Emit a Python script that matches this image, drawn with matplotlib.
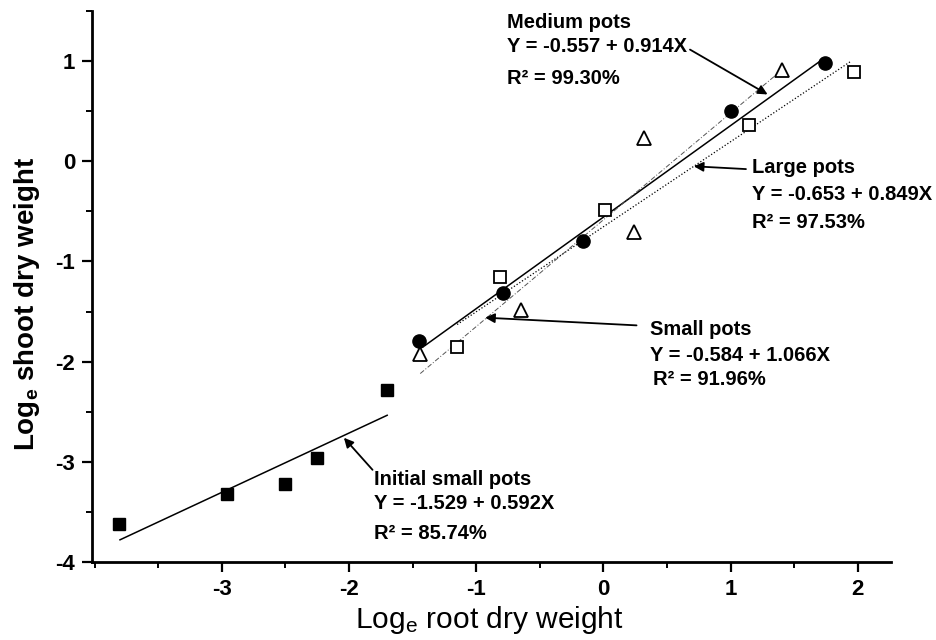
import numpy as np
import matplotlib
matplotlib.use('Agg')
import matplotlib.pyplot as plt
from matplotlib.ticker import MultipleLocator

plt.rcParams['font.family'] = ['Liberation Sans', 'DejaVu Sans']
plt.rcParams['mathtext.fontset'] = 'custom'
plt.rcParams['mathtext.rm'] = 'Liberation Sans'
plt.rcParams['mathtext.default'] = 'regular'
plt.rcParams['axes.unicode_minus'] = False

# log root (x) vs log shoot (y) dry weights
initial_x = [-3.81, -2.96, -2.50, -2.25, -1.70]
initial_y = [-3.62, -3.32, -3.22, -2.96, -2.28]
medium_x = [-1.45, -0.79, -0.16, 1.00, 1.74]
medium_y = [-1.79, -1.31, -0.80, 0.50, 0.98]
large_x = [-1.15, -0.81, 0.01, 1.14, 1.97]
large_y = [-1.85, -1.16, -0.49, 0.36, 0.89]
small_x = [-1.44, -0.65, 0.24, 0.32, 1.40]
small_y = [-1.92, -1.48, -0.71, 0.23, 0.91]

# regression lines: intercept, slope, x range
fit_names = ['Initial small pots', 'Medium pots', 'Large pots', 'Small pots']
fit_a = [-1.529, -0.557, -0.653, -0.584]
fit_b = [0.592, 0.914, 0.849, 1.066]
fit_r2 = ['85.74%', '99.30%', '97.53%', '91.96%']
fit_from = [-3.80, -1.40, -1.15, -1.44]
fit_to = [-1.70, 1.72, 1.95, 1.40]

x_ticks = [-3, -2, -1, 0, 1, 2]
y_ticks = [-4, -3, -2, -1, 0, 1]

fig = plt.figure(figsize=(9.36, 6.4), dpi=100)
ax = fig.add_axes([92 / 936, 78 / 640, 799 / 936, 551 / 640])

# regression lines
line_styles = [dict(ls='-', lw=1.1, color='black'),
               dict(ls='-', lw=1.1, color='black'),
               dict(ls=(0, (1, 1.6)), lw=0.9, color='black'),
               dict(ls=(0, (5, 2, 1, 2)), lw=0.7, color='#555555')]
for a, b, x0, x1, st in zip(fit_a, fit_b, fit_from, fit_to, line_styles):
    xs = np.array([x0, x1])
    ax.plot(xs, a + b * xs, **st, zorder=2)

# points
ax.plot(initial_x, initial_y, 's', ms=9, color='black', zorder=3)
ax.plot(medium_x, medium_y, 'o', ms=9.5, color='black', zorder=3)
ax.plot(large_x, large_y, 's', ms=8, mfc='white', mec='black', mew=1.3, zorder=3)
ax.plot(small_x, small_y, '^', ms=10, mfc='white', mec='black', mew=1.3, zorder=3)

# labels with arrows
txt = dict(fontsize=14.5, fontweight='bold', ha='left', va='center')
arrow = dict(arrowstyle='-|>', lw=1.3, color='black', mutation_scale=14,
             shrinkA=0, shrinkB=0)
# (text x, line y's, arrow tail, arrow tip)
label_pos = [(-1.80, [-3.18, -3.42, -3.72], (-1.815, -3.08), (-2.04, -2.76)),
             (-0.76, [1.382, 1.142, 0.824], (0.68, 1.115), (1.29, 0.667)),
             (1.17, [-0.061, -0.335, -0.612], (1.12, -0.078), (0.71, -0.05)),
             (0.367, [-1.682, -1.94, -2.18], (0.26, -1.638), (-0.93, -1.561))]
for name, a, b, r2, (tx, ty, tail, tip) in zip(fit_names, fit_a, fit_b, fit_r2, label_pos):
    ax.text(tx, ty[0], name, **txt)
    ax.text(tx, ty[1], f'Y = {a:.3f} + {b:.3f}X', **txt)
    ax.text(tx + (0.025 if name == 'Small pots' else 0), ty[2], f'R\u00b2 = {r2}', **txt)
    ax.annotate('', xy=tip, xytext=tail, arrowprops=arrow)

ax.set_xlim(-4.02, 2.26)
ax.set_ylim(-4, 1.5)
ax.set_xticks(x_ticks)
ax.set_yticks(y_ticks)
ax.xaxis.set_minor_locator(MultipleLocator(0.5))
ax.yaxis.set_minor_locator(MultipleLocator(0.5))
ax.spines['top'].set_visible(False)
ax.spines['right'].set_visible(False)
for s in ['left', 'bottom']:
    ax.spines[s].set_linewidth(2.0)
ax.tick_params(which='major', direction='out', length=7, width=1.6, pad=5,
               labelsize=16)
ax.tick_params(which='minor', direction='out', length=4, width=1.4)
for lab in ax.get_xticklabels() + ax.get_yticklabels():
    lab.set_fontweight('bold')

ax.set_xlabel('Log$_e$ root dry weight', fontsize=21.5)
ax.xaxis.set_label_coords(0.497, -0.077)
ax.set_ylabel('Log$_e$ shoot dry weight', fontsize=20, fontweight='bold', va='center')
ax.yaxis.set_label_coords(-0.081, 0.468)

fig.savefig('out.png', dpi=100)
